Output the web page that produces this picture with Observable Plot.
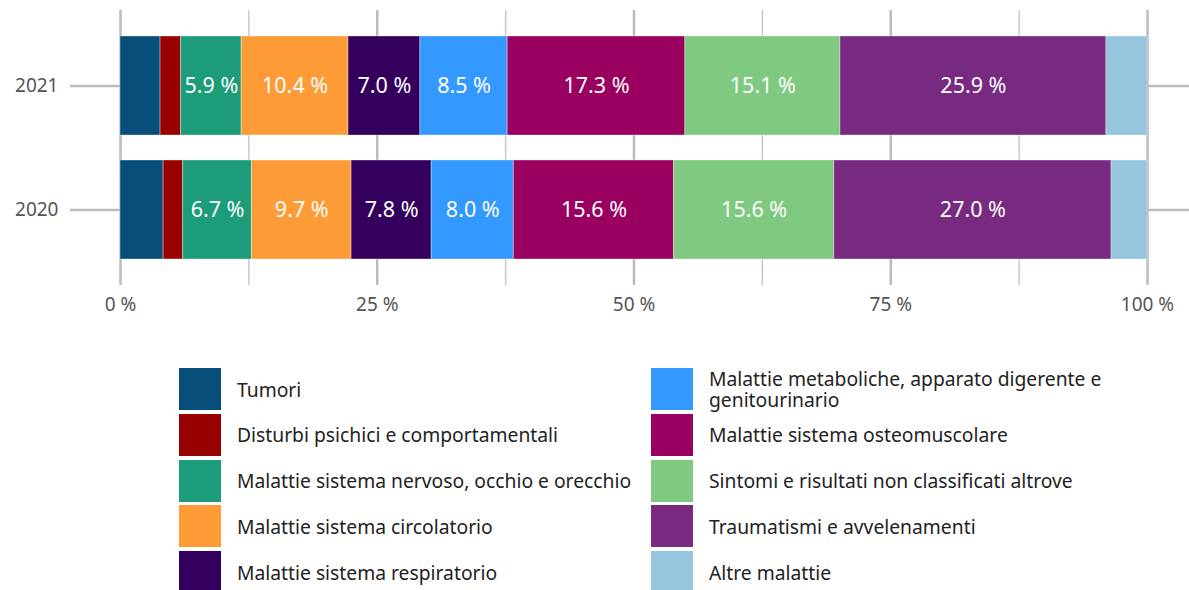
<!DOCTYPE html>
<html>
<head>
<meta charset="utf-8">
<script src="https://cdn.jsdelivr.net/npm/d3@7"></script>
<script src="https://cdn.jsdelivr.net/npm/@observablehq/plot@0.6"></script>
<style>
  html, body { margin: 0; padding: 0; background: #fff; }
  #wrap { position: relative; width: 1189px; height: 590px; font-family: "Noto Sans", sans-serif; }
  #chart { position: absolute; left: 0; top: 0; }
  .legcol { position: absolute; top: 368px; }
  .item { position: relative; height: 45.8px; }
  .sw { position: absolute; left: 0; top: 0; width: 42px; height: 42px; }
  .lab { position: absolute; left: 58px; top: 0; height: 42px; display: flex; align-items: center; font-size: 19.3px; line-height: 21px; color: #222; }
</style>
</head>
<body>
<div id="wrap">
  <div id="chart"></div>
  <div class="legcol" id="leg1" style="left:179px;"></div>
  <div class="legcol" id="leg2" style="left:651px;"></div>
</div>
<script>
const years = ["2021", "2020"];
const categories = [
  "Tumori",
  "Disturbi psichici e comportamentali",
  "Malattie sistema nervoso, occhio e orecchio",
  "Malattie sistema circolatorio",
  "Malattie sistema respiratorio",
  "Malattie metaboliche, apparato digerente e genitourinario",
  "Malattie sistema osteomuscolare",
  "Sintomi e risultati non classificati altrove",
  "Traumatismi e avvelenamenti",
  "Altre malattie"
];
const colors = ["#074f7a", "#990000", "#1c9c78", "#fd9b36", "#33005e", "#3399ff", "#990060", "#80c980", "#772a80", "#95c6de"];
const values2021 = [3.9, 2.0, 5.9, 10.4, 7.0, 8.5, 17.3, 15.1, 25.9, 4.0];
const values2020 = [4.2, 1.9, 6.7, 9.7, 7.8, 8.0, 15.6, 15.6, 27.0, 3.5];
const xTicks = [0, 25, 50, 75, 100];
const minorGrid = [12.5, 37.5, 62.5, 87.5];

const data = [];
categories.forEach((c, i) => data.push({year: "2021", cat: c, value: values2021[i]}));
categories.forEach((c, i) => data.push({year: "2020", cat: c, value: values2020[i]}));

const fmt = v => v.toFixed(1) + " %";

const chart = Plot.plot({
  width: 1189,
  height: 330,
  marginLeft: 120,
  marginRight: 42,
  marginTop: 10,
  marginBottom: 45,
  style: {fontFamily: "Noto Sans, sans-serif", fontSize: "19px", color: "#555", background: "#fff"},
  x: {domain: [0, 100], label: null},
  y: {domain: years, padding: 0.2, label: null},
  color: {domain: categories, range: colors},
  marks: [
    Plot.ruleX(minorGrid, {stroke: "#c8c8c8", strokeWidth: 1.5}),
    Plot.ruleX(xTicks, {stroke: "#bbb", strokeWidth: 2.5}),
    Plot.barX(data, Plot.stackX({x: "value", y: "year", fill: "cat", order: categories, stroke: "#fff", strokeOpacity: 0.35, strokeWidth: 1})),
    Plot.text(data, Plot.stackX({x: "value", y: "year", z: "cat", order: categories, text: d => d.value >= 5 ? fmt(d.value) : "", fill: "white", fontSize: 21.5})),
    Plot.axisX({ticks: xTicks, tickFormat: d => d + " %", tickSize: 0, tickPadding: 12, fontSize: 19, color: "#555", label: null}),
    Plot.axisY({anchor: "left", tickSize: 50, tickPadding: 12, fontSize: 19, stroke: "#bbb", strokeWidth: 2.5, color: "#555", label: null}),
    Plot.axisY({anchor: "right", tickSize: 42, tickFormat: () => "", stroke: "#bbb", strokeWidth: 2.5, label: null})
  ]
});
document.getElementById("chart").appendChild(chart);

function legend(el, idxs) {
  idxs.forEach(i => {
    const it = document.createElement("div");
    it.className = "item";
    const sw = document.createElement("div");
    sw.className = "sw";
    sw.style.background = colors[i];
    const lab = document.createElement("div");
    lab.className = "lab";
    lab.style.width = "420px";
    lab.textContent = categories[i];
    it.appendChild(sw);
    it.appendChild(lab);
    el.appendChild(it);
  });
}
legend(document.getElementById("leg1"), [0, 1, 2, 3, 4]);
legend(document.getElementById("leg2"), [5, 6, 7, 8, 9]);
</script>
</body>
</html>
